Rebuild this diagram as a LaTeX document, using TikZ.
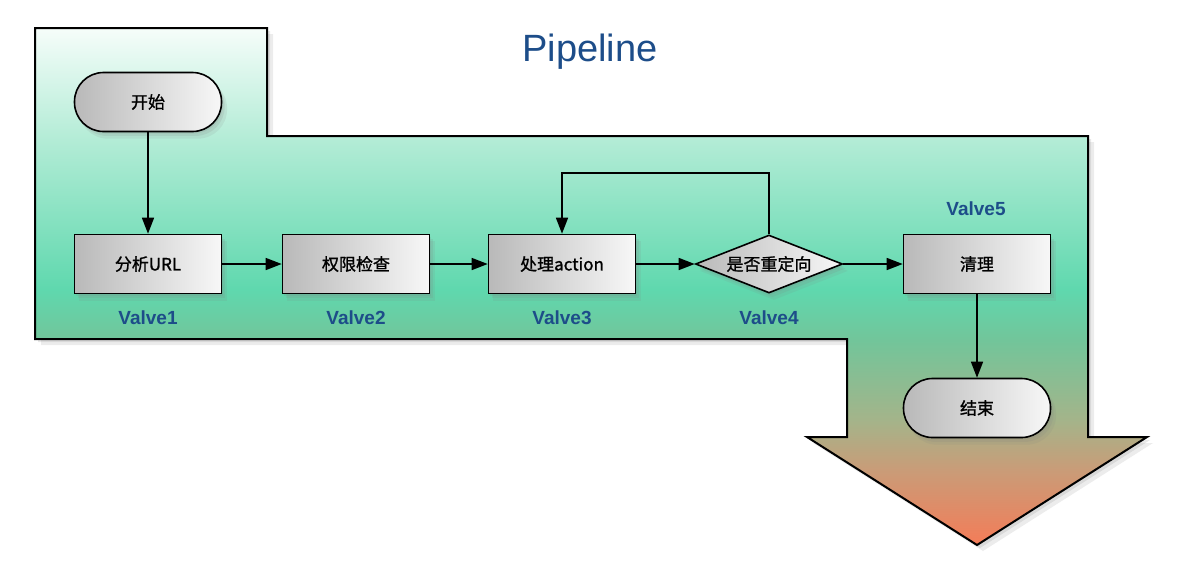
\documentclass[tikz,border=0pt]{standalone}
\usepackage{fontspec}
\setmainfont{Liberation Sans}
\newfontfamily\cjk[FakeBold=1.2]{Noto Sans CJK SC}
\usetikzlibrary{shapes.geometric,shadows,arrows.meta}
\definecolor{c0}{HTML}{F6FDFA}
\definecolor{c1}{HTML}{B3ECD6}
\definecolor{c2}{HTML}{5FD8AE}
\definecolor{c3}{HTML}{72C59A}
\definecolor{c4}{HTML}{A4B48A}
\definecolor{c5}{HTML}{C99C78}
\definecolor{c6}{HTML}{F47C58}
\definecolor{titleblue}{HTML}{1D4D89}
\pgfdeclareverticalshading{flowshade}{100bp}{color(0bp)=(c6); color(25bp)=(c6); color(32.3bp)=(c5); color(37.1bp)=(c4); color(44.8bp)=(c3); color(49.7bp)=(c2); color(64.2bp)=(c1); color(75bp)=(c0); color(100bp)=(c0)}
\tikzset{
  softshadow/.style={
    drop shadow={opacity=0.15, shadow xshift=0.8pt, shadow yshift=-1pt},
    drop shadow={opacity=0.15, shadow xshift=1.6pt, shadow yshift=-2.2pt},
    drop shadow={opacity=0.12, shadow xshift=2.4pt, shadow yshift=-3.4pt, shadow scale=1.01}},
  stepbox/.style={draw=black, line width=0.8pt, left color=gray!55, right color=white!97!black,
    minimum width=73.5pt, minimum height=29.5pt, inner sep=0pt,
    font=\cjk\fontsize{8.5}{10}\selectfont, softshadow},
  termbox/.style={stepbox, rounded corners=14.5pt},
  decbox/.style={stepbox, diamond, aspect=2.5, minimum width=73.5pt, minimum height=29pt},
  valve/.style={text=titleblue, font=\bfseries\fontsize{9.5}{11}\selectfont},
  arr/.style={line width=0.75pt, -{Triangle[length=8pt,width=6pt]}}
}
\begin{document}
\begin{tikzpicture}[x=0.5pt,y=-0.5pt]
\useasboundingbox (0,0) rectangle (1182,585);
% big pipeline arrow shape
\path[draw=black, line width=1pt, shading=flowshade,
  drop shadow={opacity=0.18, shadow xshift=1.5pt, shadow yshift=-1.5pt},
  drop shadow={opacity=0.15, shadow xshift=3pt, shadow yshift=-3pt}]
  (35,28) -- (267,28) -- (267,136) -- (1088,136) -- (1088,437) -- (1147,437)
  -- (977,545) -- (807,437) -- (847,437) -- (847,339) -- (35,339) -- cycle;
\node[font=\fontsize{19}{22}\selectfont, text=titleblue] (title) at (590,52) {Pipeline};
% nodes
\node[termbox] (start) at (148,102) {开始};
\node[stepbox] (v1) at (148,264) {分析URL};
\node[stepbox] (v2) at (356,264) {权限检查};
\node[stepbox] (v3) at (562,264) {处理action};
\node[decbox] (v4) at (769,264) {是否重定向};
\node[stepbox] (v5) at (977,264) {清理};
\node[termbox] (end) at (977,408) {结束};
% labels
\node[valve] (l1) at (148,318) {Valve1};
\node[valve] (l2) at (356,318) {Valve2};
\node[valve] (l3) at (562,318) {Valve3};
\node[valve] (l4) at (769,318) {Valve4};
\node[valve] (l5) at (976,209) {Valve5};
% connectors
\draw[arr] (start) -- (v1);
\draw[arr] (v1) -- (v2);
\draw[arr] (v2) -- (v3);
\draw[arr] (v3) -- (v4);
\draw[arr] (v4) -- (v5);
\draw[arr] (v5) -- (end);
\draw[arr] (v4.north) -- ++(0,-61) -| (v3.north);
\end{tikzpicture}
\end{document}
